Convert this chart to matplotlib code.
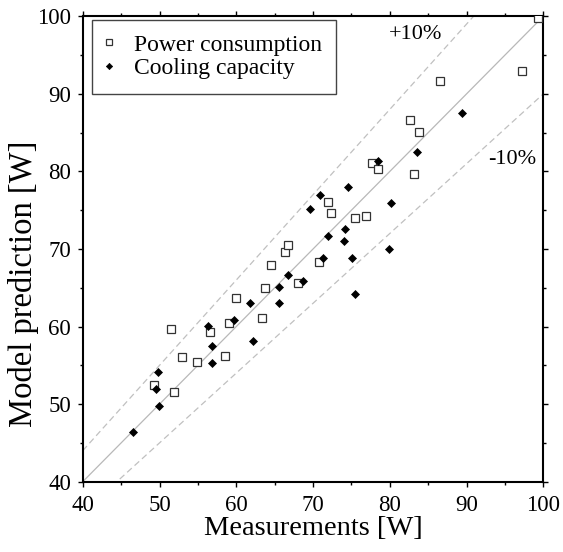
import numpy as np
import matplotlib
matplotlib.use("Agg")
import matplotlib.pyplot as plt

plt.rcParams['font.family'] = ['Liberation Serif', 'DejaVu Serif']

# Power consumption: measured vs predicted [W]
power_meas = [49.3, 51.5, 51.9, 52.9, 54.9, 56.6, 58.5, 59.0, 60.0, 63.35,
              63.7, 64.5, 66.3, 66.7, 68.0, 70.8, 71.9, 72.3, 75.5, 76.9,
              77.7, 78.5, 83.2, 82.6, 83.8, 86.5, 97.2, 99.3]
power_pred = [52.5, 59.7, 51.5, 56.1, 55.4, 59.3, 56.2, 60.4, 63.7, 61.1,
              65.0, 68.0, 69.6, 70.5, 65.6, 68.3, 76.0, 74.6, 74.0, 74.3,
              81.1, 80.3, 79.7, 86.6, 85.1, 91.7, 92.9, 99.85]

# Cooling capacity: measured vs predicted [W]
cool_meas = [46.55, 49.9, 49.6, 49.8, 56.3, 56.9, 56.8, 59.7, 61.8, 62.2,
             65.6, 65.6, 66.8, 68.65, 69.65, 70.9, 71.3, 71.9, 74.0, 74.2,
             74.5, 75.1, 75.5, 79.9, 80.1, 78.5, 83.6, 89.4]
cool_pred = [46.45, 49.8, 52.0, 54.1, 60.1, 57.5, 55.35, 60.8, 63.0, 58.1,
             63.0, 65.15, 66.7, 65.9, 75.2, 76.9, 68.85, 71.7, 71.0, 72.6,
             78.0, 68.85, 64.25, 70.0, 75.9, 81.4, 82.5, 87.5]

fig = plt.figure(figsize=(5.63, 5.52), dpi=100)
ax = fig.add_axes([0.147, 0.1274, 0.818, 0.843])

# reference lines: 1:1 and +/-10 %
xl = np.array([40, 100])
ax.plot(xl, xl, color='#b8b8b8', lw=0.9, zorder=1)
ax.plot(xl, 1.1 * xl, color='#c0c0c0', lw=0.9, ls=(0, (5, 3)), zorder=1)
ax.plot(xl, 0.9 * xl, color='#c0c0c0', lw=0.9, ls=(0, (5, 3)), zorder=1)

ax.plot(power_meas, power_pred, 's', ms=5.3, mfc='white', mec='#333333', mew=0.9,
        label='Power consumption', zorder=3)
ax.plot(cool_meas, cool_pred, 'D', ms=4, mfc='black', mec='black', mew=0.5,
        label='Cooling capacity', zorder=3)

ax.text(83.3, 97.7, '+10%', fontsize=16, ha='center', va='center')
ax.text(95.9, 81.5, '-10%', fontsize=16, ha='center', va='center')

ax.set_xlim(40, 100)
ax.set_ylim(40, 100)
ax.set_xticks(np.arange(40, 101, 10))
ax.set_yticks(np.arange(40, 101, 10))
ax.set_xticks(np.arange(45, 100, 10), minor=True)
ax.set_yticks(np.arange(45, 100, 10), minor=True)
ax.tick_params(which='both', direction='out', top=True, right=True,
               labelsize=16.5, width=1.0)
ax.tick_params(which='major', length=3.8)
ax.tick_params(which='minor', length=2)
ax.tick_params(axis='x', which='major', pad=5.5)
ax.tick_params(axis='y', which='major', pad=4.5)
for s in ax.spines.values():
    s.set_linewidth(1.5)

ax.set_xlabel('Measurements [W]', fontsize=20.5, labelpad=0)
ax.set_ylabel('Model prediction [W]', fontsize=23.5)
ax.yaxis.set_label_coords(-0.096, 0.425)

leg = ax.legend(loc='upper left', bbox_to_anchor=(0.0195, 0.9925), borderaxespad=0,
                fontsize=17, fancybox=False, framealpha=1, edgecolor='#444444',
                handletextpad=0.87, labelspacing=0.1, borderpad=0.6,
                markerscale=0.8, handlelength=0.3)
leg.get_frame().set_linewidth(1.0)

fig.savefig('out.png', dpi=100)
